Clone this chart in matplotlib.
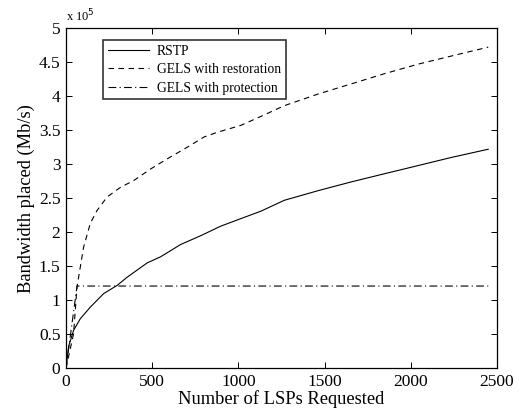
import numpy as np
import matplotlib
matplotlib.use("Agg")
import matplotlib.pyplot as plt

plt.rcParams["font.family"] = ["Liberation Serif", "DejaVu Serif"]

# RSTP (solid)
rstp_x = [0, 15, 44, 83, 141, 219, 297, 355, 471, 549, 665, 782, 898, 1014, 1131,
          1267, 1461, 1655, 1848, 2043, 2237, 2450]
rstp_y = [0, 0.32, 0.56, 0.73, 0.90, 1.10, 1.22, 1.34, 1.55, 1.64, 1.82, 1.95, 2.09,
          2.20, 2.31, 2.47, 2.61, 2.74, 2.86, 2.98, 3.10, 3.22]

# GELS with restoration (dashed)
rest_x = [0, 44, 64, 102, 141, 180, 239, 316, 393, 491, 588, 704, 801, 879, 1014,
          1120, 1267, 1461, 1655, 1848, 2043, 2237, 2450]
rest_y = [0, 0.51, 1.2, 1.78, 2.13, 2.32, 2.52, 2.66, 2.76, 2.93, 3.08, 3.25, 3.40,
          3.47, 3.57, 3.69, 3.86, 4.03, 4.18, 4.33, 4.47, 4.59, 4.72]

# GELS with protection (dash-dot)
prot_x = [0, 64, 2450]
prot_y = [0, 1.21, 1.21]

fig = plt.figure(figsize=(5.28, 4.13), dpi=100)
ax = fig.add_axes([0.125, 0.108, 0.816, 0.824])

ax.plot(rstp_x, rstp_y, color="black", lw=0.8, ls="-", label="RSTP")
ax.plot(rest_x, rest_y, color="black", lw=0.8, ls=(0, (5, 4)), label="GELS with restoration")
ax.plot(prot_x, prot_y, color="black", lw=0.8, ls=(0, (7, 3, 1, 3)), label="GELS with protection")

ax.set_xlim(0, 2500)
ax.set_ylim(0, 5)
ax.set_xticks(np.arange(0, 2501, 500))
ax.set_yticks(np.arange(0, 5.01, 0.5))
ax.set_yticklabels(["0", "0.5", "1", "1.5", "2", "2.5", "3", "3.5", "4", "4.5", "5"])
ax.tick_params(direction="in", top=True, right=True, labelsize=12.5, length=4, width=0.7, pad=4)
for s in ax.spines.values():
    s.set_linewidth(0.9)

ax.set_xlabel("Number of LSPs Requested", fontsize=13.3, labelpad=0)
ax.set_ylabel("Bandwidth placed (Mb/s)", fontsize=13.3, labelpad=3)
ax.text(0.0, 1.012, r"x 10$^{5}$", transform=ax.transAxes, fontsize=9, ha="left", va="bottom")

leg = ax.legend(loc="upper left", bbox_to_anchor=(0.07, 0.985), fontsize=9.8,
                frameon=True, fancybox=False, edgecolor="black", handlelength=3.0,
                borderpad=0.35, labelspacing=0.4, handletextpad=0.6)
leg.get_frame().set_linewidth(1.2)

fig.savefig("out.png", dpi=100)
